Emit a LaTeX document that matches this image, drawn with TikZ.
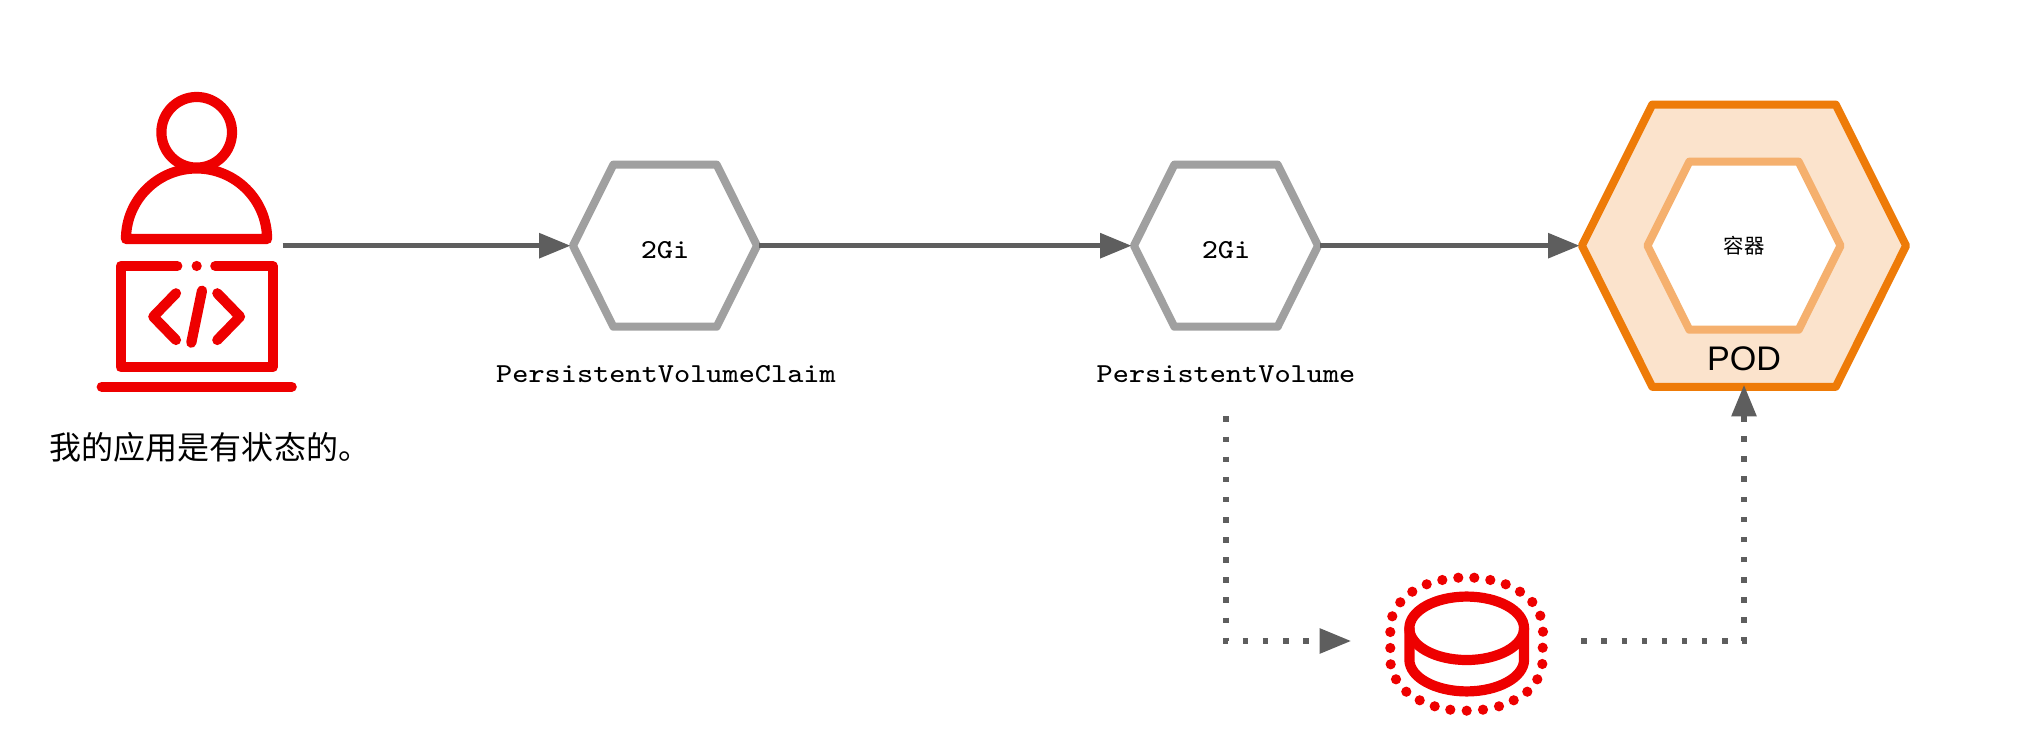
\documentclass[tikz,border=0pt]{standalone}
\usepackage{fontspec}
\setmainfont{Liberation Sans}
\setmonofont[FakeStretch=1.11]{Latin Modern Mono}
\newfontfamily\cjk{Noto Sans CJK SC}
\usetikzlibrary{arrows.meta,shapes.symbols}
\definecolor{iconred}{HTML}{EE0000}
\definecolor{flowgray}{HTML}{5E5E5E}
\definecolor{hexgray}{HTML}{A0A0A0}
\definecolor{podline}{HTML}{EE7B08}
\definecolor{podfill}{HTML}{FBE3CC}
\definecolor{cupline}{HTML}{F5B06E}
\begin{document}
\begin{tikzpicture}[x=0.01cm,y=-0.01cm,
  hexbox/.style={shape=signal,signal to=west and east,signal pointer angle=127,inner sep=0pt,outer sep=0.02cm,line join=round,line width=0.08cm},
  volhex/.style={hexbox,draw=hexgray,fill=white,minimum width=1.84cm,minimum height=1.62cm,font=\ttfamily\fontsize{7.8pt}{9pt}\selectfont,text height=0.256cm},
  monolabel/.style={inner sep=0pt,font=\ttfamily\fontsize{7.8pt}{9pt}\selectfont},
  flow/.style={draw=flowgray,line width=0.055cm,-{Triangle[length=3.15mm,width=2.4mm]}},
  dotflow/.style={flow,dash pattern=on 0.055cm off 0.146cm},
  icon/.style={draw=iconred,line width=0.102cm,line cap=round,line join=round}]
\useasboundingbox (0,0) rectangle (2020,752);
\draw[icon] (196.7,132.3) circle[radius=0.353cm];
\draw[icon] (126,239) arc[start angle=180,end angle=0,radius=0.705cm] -- cycle;
\draw[icon] (177.3,266) -- (120.7,266) -- (120.7,367.3) -- (272.7,367.3) -- (272.7,266) -- (215.3,266);
\fill[iconred] (196.7,266) circle[radius=0.051cm];
\draw[icon] (176,293.3) -- (153.3,316.7) -- (176,340);
\draw[icon] (217.3,293.3) -- (240,316.7) -- (217.3,340);
\draw[icon] (202,290.7) -- (191.3,342.7);
\draw[icon] (101.7,386.7) -- (291.7,386.7);
\coordinate (userport) at (282.7,245.7);
\node[inner sep=0pt,font=\cjk\fontsize{9.1pt}{11pt}\selectfont] (userlabel) at (210,447) {我的应用是有状态的。};
\node[volhex] (pvc) at (665,245.7) {2Gi};
\node[monolabel] (pvclabel) at (666,374.5) {PersistentVolumeClaim};
\node[volhex] (pv) at (1226,245.7) {2Gi};
\node[monolabel] (pvlabel) at (1226,374.5) {PersistentVolume};
\node[hexbox,draw=podline,fill=podfill,minimum width=3.24cm,minimum height=2.82cm] (pod) at (1744,245.7) {};
\node[hexbox,draw=cupline,fill=white,minimum width=1.93cm,minimum height=1.68cm,font=\cjk\fontsize{5.8pt}{7pt}\selectfont] (cup) at (1744,245.7) {容器};
\node[inner sep=0pt,font=\fontsize{9.7pt}{11pt}\selectfont] (podlabel) at (1744,359) {POD};
\draw[icon] (1409.4,628.3) -- (1409.4,659.7) arc[start angle=180,end angle=360,x radius=0.573cm,y radius=0.317cm] -- (1524,628.3);
\draw[icon] (1466.7,628.3) ellipse[x radius=0.573cm,y radius=0.317cm];
\foreach \x/\y in {1458.3/577.7,1474.3/577.7,1490.3/580,1505.7/584.3,1520/591.7,1532.3/602,1540.3/615.7,1543/631.7,1542.7/647.7,1542.3/664,1537.3/679.3,1527.3/691.7,1513.7/700.3,1499/706.3,1483/709.7,1466.7/710.7,1450.3/709.7,1434.7/706.3,1419.7/700.3,1406.3/691.7,1396/679.3,1390.7/664.3,1390.3/648,1390.3/632,1392.3/616.3,1400.3/602.3,1412.3/591.7,1426.7/584.3,1442.3/580}
  \fill[iconred] (\x,\y) circle[radius=0.051cm];
\node[minimum width=2.285cm,minimum height=1.3cm,inner sep=0pt] (disk) at (1466.25,641) {};
\coordinate (pvport) at (1226,416.5);
\draw[flow] (userport) -- (pvc.west);
\draw[flow] (pvc.east) -- (pv.west);
\draw[flow] (pv.east) -- (pod.west);
\draw[dotflow] (pvport) |- (disk.west);
\draw[dotflow,shorten >=-0.04cm] (disk.east) -| (pod.south);
\end{tikzpicture}
\end{document}
